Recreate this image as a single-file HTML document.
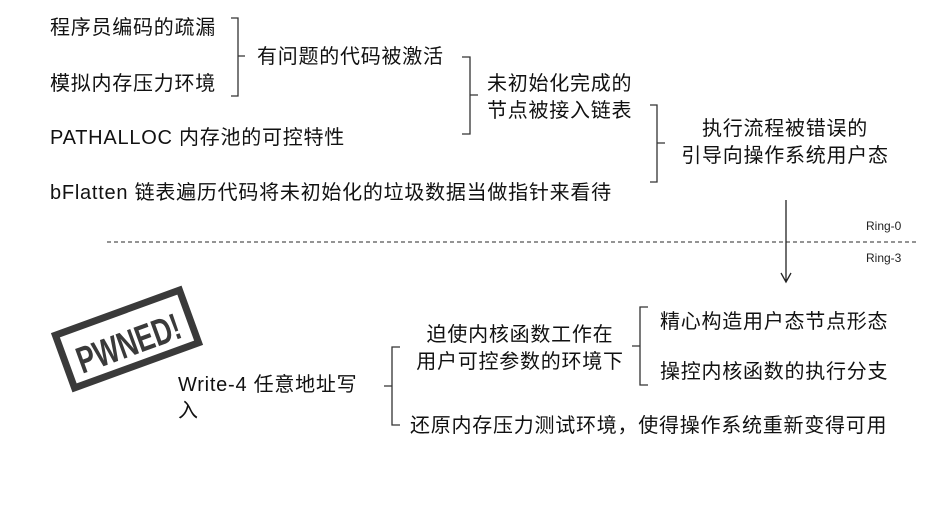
<!DOCTYPE html>
<html><head><meta charset="utf-8">
<style>
html,body{margin:0;padding:0;background:#fff;}
body{width:946px;height:518px;position:relative;overflow:hidden;font-family:"Liberation Sans","Noto Sans CJK SC",sans-serif;color:#111;}
.t{position:absolute;font-size:20px;line-height:24px;white-space:nowrap;letter-spacing:0.75px;}
.c{text-align:center;}
.s{position:absolute;font-size:12px;line-height:14px;color:#222;}
svg{position:absolute;left:0;top:0;}
</style></head><body>
<svg width="946" height="518" viewBox="0 0 946 518">
<g fill="none" stroke="#333" stroke-width="1.3">
<path d="M231 18 H238 V96 H231 M238 56 H245"/>
<path d="M462 57 H470 V134 H462 M470 95 H478"/>
<path d="M650 105 H657 V182 H650 M657 143 H665"/>
<path d="M400 347 H392 V425 H400 M392 386 H384"/>
<path d="M648 307 H640 V385 H648 M640 346 H632"/>
<path d="M107 242 H918" stroke-dasharray="4 3" stroke="#555"/>
<path d="M786 200 V282 M781 273 L786 282 L791 273" stroke="#222"/>
</g>
<g transform="translate(127,339) rotate(-20)">
<rect x="-66" y="-28" width="132" height="56" fill="none" stroke="#3a3a3a" stroke-width="7"/>
<text x="-54" y="14" font-family="Liberation Sans" font-weight="bold" font-size="30" fill="#3a3a3a" textLength="108" lengthAdjust="spacingAndGlyphs" transform="scale(1,1.25)" >PWNED!</text>
</g>
</svg>
<div class="t" style="left:50px;top:16px">程序员编码的疏漏</div>
<div class="t" style="left:50px;top:72px">模拟内存压力环境</div>
<div class="t" style="left:257px;top:45px">有问题的代码被激活</div>
<div class="t" style="left:487px;top:72px">未初始化完成的</div>
<div class="t" style="left:487px;top:99px">节点被接入链表</div>
<div class="t" style="left:50px;top:126px">PATHALLOC 内存池的可控特性</div>
<div class="t" style="left:50px;top:181px">bFlatten 链表遍历代码将未初始化的垃圾数据当做指针来看待</div>
<div class="t c" style="left:670px;top:117px;width:230px">执行流程被错误的</div>
<div class="t c" style="left:670px;top:144px;width:230px">引导向操作系统用户态</div>
<div class="s" style="left:866px;top:219px">Ring-0</div>
<div class="s" style="left:866px;top:251px">Ring-3</div>
<div class="t" style="left:178px;top:373px">Write-4 任意地址写</div>
<div class="t" style="left:178px;top:399px">入</div>
<div class="t c" style="left:410px;top:323px;width:220px">迫使内核函数工作在</div>
<div class="t c" style="left:410px;top:350px;width:220px">用户可控参数的环境下</div>
<div class="t" style="left:660px;top:310px">精心构造用户态节点形态</div>
<div class="t" style="left:660px;top:360px">操控内核函数的执行分支</div>
<div class="t" style="left:410px;top:414px">还原内存压力测试环境，使得操作系统重新变得可用</div>
</body></html>
